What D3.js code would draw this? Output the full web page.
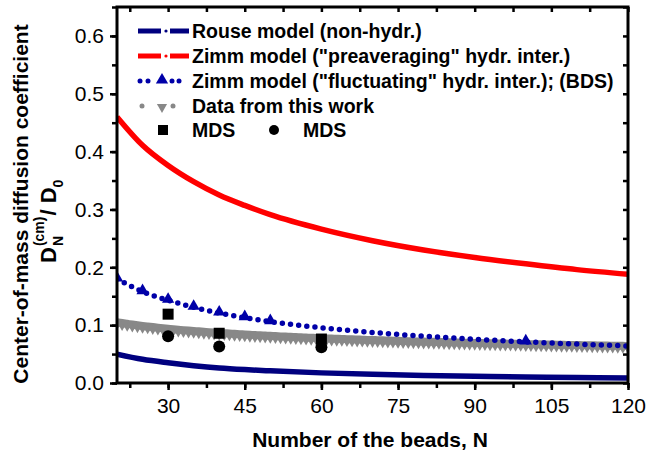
<!DOCTYPE html>
<html><head><meta charset="utf-8">
<script src="https://cdn.jsdelivr.net/npm/d3@7"></script>
<style>
body{margin:0;background:#fff;}
text{font-family:"Liberation Sans",Arial,sans-serif;}
</style></head>
<body><svg id="c" width="647" height="453"></svg>
<script>
// ---- data ----
const modelN = [20,25,30,35,40,45,50,60,70,80,90,100,110,120];
const rouse = [0.050,0.041,0.035,0.030,0.026,0.0232,0.021,0.0175,0.015,0.013,0.0116,0.0105,0.0095,0.0088];
const zimmPre = [0.460,0.411,0.376,0.348,0.325,0.307,0.291,0.266,0.246,0.230,0.217,0.206,0.196,0.188];
const zimmFluct = [0.180,0.158,0.143,0.131,0.121,0.113,0.106,0.0956,0.0873,0.081,0.0756,0.0711,0.0673,0.064];
const bdsTriN = [20,25,30,35,40,45,50,100];
const bdsTri = [0.180,0.158,0.143,0.131,0.121,0.113,0.106,0.0711];
const workN = d3.range(20,121);
const work = [0.1050,0.1036,0.1023,0.1010,0.0998,0.0987,0.0977,0.0967,0.0957,0.0948,
0.0939,0.0930,0.0922,0.0914,0.0907,0.0900,0.0893,0.0886,0.0879,0.0873,
0.0867,0.0861,0.0856,0.0850,0.0845,0.0839,0.0834,0.0829,0.0825,0.0820,
0.0815,0.0811,0.0806,0.0802,0.0798,0.0794,0.0790,0.0786,0.0782,0.0779,
0.0775,0.0771,0.0768,0.0764,0.0761,0.0758,0.0755,0.0752,0.0748,0.0745,
0.0743,0.0740,0.0737,0.0734,0.0731,0.0729,0.0726,0.0723,0.0721,0.0718,
0.0716,0.0714,0.0711,0.0709,0.0706,0.0704,0.0702,0.0700,0.0697,0.0695,
0.0693,0.0691,0.0689,0.0687,0.0685,0.0683,0.0681,0.0679,0.0677,0.0675,
0.0673,0.0671,0.0670,0.0668,0.0666,0.0664,0.0663,0.0661,0.0659,0.0658,
0.0656,0.0654,0.0653,0.0651,0.0650,0.0648,0.0647,0.0645,0.0644,0.0642,0.0641];
const mdsSqN = [30,40,60];
const mdsSq = [0.119,0.086,0.076];
const mdsCircN = [30,40,60];
const mdsCirc = [0.081,0.063,0.062];
const xTicks = [30,45,60,75,90,105,120];
const yTicks = [0.0,0.1,0.2,0.3,0.4,0.5,0.6];
const legendLabels = ['Rouse model (non-hydr.)','Zimm model ("preaveraging" hydr. inter.)','Zimm model ("fluctuating" hydr. inter.); (BDS)','Data from this work'];

// ---- layout ----
const L=117,R=628,T=7,B=383;
const svg=d3.select('#c');
const x=d3.scaleLinear().domain([20,120]).range([L,R]);
const y=d3.scaleLinear().domain([0,0.65]).range([B,T]);
const navy='#00007f', red='#ff0000', blue='#0000a8', gray='#888888';

svg.append('clipPath').attr('id','cp').append('rect').attr('x',L).attr('y',T).attr('width',R-L).attr('height',B-T);
const g=svg.append('g').attr('clip-path','url(#cp)');
const line=(xs,ys)=>d3.line().curve(d3.curveMonotoneX).x((d,i)=>x(xs[i])).y((d,i)=>y(ys[i]))(ys);

// gray data
g.append('path').attr('d',line(workN,work)).attr('fill','none').attr('stroke',gray).attr('stroke-width',8);
const triDown=d3.symbol().type(d3.symbolTriangle).size(45);
g.selectAll('.wt').data(work).enter().append('path').attr('d',triDown)
 .attr('transform',(d,i)=>`translate(${x(workN[i])},${y(d)+2}) rotate(180)`).attr('fill',gray);

// rouse
g.append('path').attr('d',line(modelN,rouse)).attr('fill','none').attr('stroke',navy).attr('stroke-width',5.5);
// zimm pre
g.append('path').attr('d',line(modelN,zimmPre)).attr('fill','none').attr('stroke',red).attr('stroke-width',5.5);
// zimm fluct dotted
g.append('path').attr('d',line(modelN,zimmFluct)).attr('fill','none').attr('stroke',blue).attr('stroke-width',5.5)
 .attr('stroke-linecap','round').attr('stroke-dasharray','0 8.2');
const tri=d3.symbol().type(d3.symbolTriangle).size(65);
g.selectAll('.bt').data(bdsTri).enter().append('path').attr('d',tri)
 .attr('transform',(d,i)=>`translate(${x(bdsTriN[i])},${y(d)-1})`).attr('fill',blue);

// MDS
svg.selectAll('.sq').data(mdsSq).enter().append('rect')
 .attr('x',(d,i)=>x(mdsSqN[i])-5.5).attr('y',d=>y(d)-5.5).attr('width',11).attr('height',11).attr('fill','#000');
svg.selectAll('.ci').data(mdsCirc).enter().append('circle')
 .attr('cx',(d,i)=>x(mdsCircN[i])).attr('cy',d=>y(d)).attr('r',6).attr('fill','#000');

// axes
const minorX=d3.range(22.5,121,7.5), minorY=d3.range(0,0.651,0.05);
function ax(gen,tr){return svg.append('g').attr('transform',tr).call(gen);}
const fs='21px';
ax(d3.axisBottom(x).tickValues(xTicks).tickSize(7).tickPadding(8).tickFormat(d3.format('d')),`translate(0,${B})`);
ax(d3.axisBottom(x).tickValues(minorX).tickSize(5).tickFormat(''),`translate(0,${B})`);
ax(d3.axisLeft(y).tickValues(yTicks).tickSize(7).tickPadding(6).tickFormat(d3.format('.1f')),`translate(${L},0)`);
ax(d3.axisLeft(y).tickValues(minorY).tickSize(5).tickFormat(''),`translate(${L},0)`);
ax(d3.axisBottom(x).tickValues(minorX).tickSize(5).tickFormat(''),`translate(0,${T})`);
ax(d3.axisLeft(y).tickValues(minorY).tickSize(5).tickFormat(''),`translate(${R},0)`);
svg.selectAll('.domain').remove();
svg.selectAll('.tick line').attr('stroke','#000').attr('stroke-width',2.5);
svg.selectAll('.tick text').attr('font-size',fs).attr('fill','#000').style('font-family','"Liberation Sans",Arial,sans-serif');
svg.append('rect').attr('x',L).attr('y',T).attr('width',R-L).attr('height',B-T).attr('fill','none').attr('stroke','#000').attr('stroke-width',3);

// axis titles
svg.append('text').attr('x',370).attr('y',447).attr('text-anchor','middle').attr('font-weight','bold').attr('font-size','21px').text('Number of the beads, N');
svg.append('text').attr('transform','translate(28,204) rotate(-90)').attr('text-anchor','middle').attr('font-weight','bold').attr('font-size','21px').text('Center-of-mass diffusion coefficient');
const t2=svg.append('g').attr('transform','translate(56,263) rotate(-90)');
let cx=0;
function piece(s,fsz,dy,adv){const t=t2.append('text').attr('x',cx).attr('y',dy).attr('font-weight','bold').attr('font-size',fsz).text(s);const w=t.node().getComputedTextLength();if(adv)cx+=w;return w;}
piece('D','22px',0,true);
const s0=cx+1; cx=s0; const w1=piece('(cm)','14px',-12,false); cx=s0; const w2=piece('N','14px',7,false); cx=s0+Math.max(w1,w2)+1;
piece(' / D','22px',0,true);
piece('0','14px',7,true);

// legend
const lg=svg.append('g');
const base=[38,63,88,113];
const tx0=192, lfs='19.5px';
legendLabels.forEach((s,i)=>lg.append('text').attr('x',tx0).attr('y',base[i]).attr('font-weight','bold').attr('font-size',lfs).text(s));
const rows=base.map(b=>b-7);
[[navy,rows[0]],[red,rows[1]]].forEach(([c,yy])=>{
 lg.append('line').attr('x1',138).attr('x2',161).attr('y1',yy).attr('y2',yy).attr('stroke',c).attr('stroke-width',5);
 lg.append('circle').attr('cx',166).attr('cy',yy).attr('r',1.6).attr('fill',c);
 lg.append('line').attr('x1',170).attr('x2',189).attr('y1',yy).attr('y2',yy).attr('stroke',c).attr('stroke-width',5);
});
[140,148,172,179].forEach(px=>lg.append('circle').attr('cx',px).attr('cy',rows[2]).attr('r',2.5).attr('fill',blue));
lg.append('path').attr('d',tri).attr('transform',`translate(162,${rows[2]-1})`).attr('fill',blue);
lg.append('circle').attr('cx',142).attr('cy',rows[3]).attr('r',2.5).attr('fill',gray);
lg.append('path').attr('d',triDown).attr('transform',`translate(162,${rows[3]+1}) rotate(180)`).attr('fill',gray);
lg.append('circle').attr('cx',173).attr('cy',rows[3]).attr('r',2.5).attr('fill',gray);
lg.append('rect').attr('x',158).attr('y',125).attr('width',10).attr('height',10).attr('fill','#000');
lg.append('text').attr('x',tx0).attr('y',137).attr('font-weight','bold').attr('font-size',lfs).text('MDS');
lg.append('circle').attr('cx',274).attr('cy',130).attr('r',5).attr('fill','#000');
lg.append('text').attr('x',303).attr('y',137).attr('font-weight','bold').attr('font-size',lfs).text('MDS');
</script></body></html>
